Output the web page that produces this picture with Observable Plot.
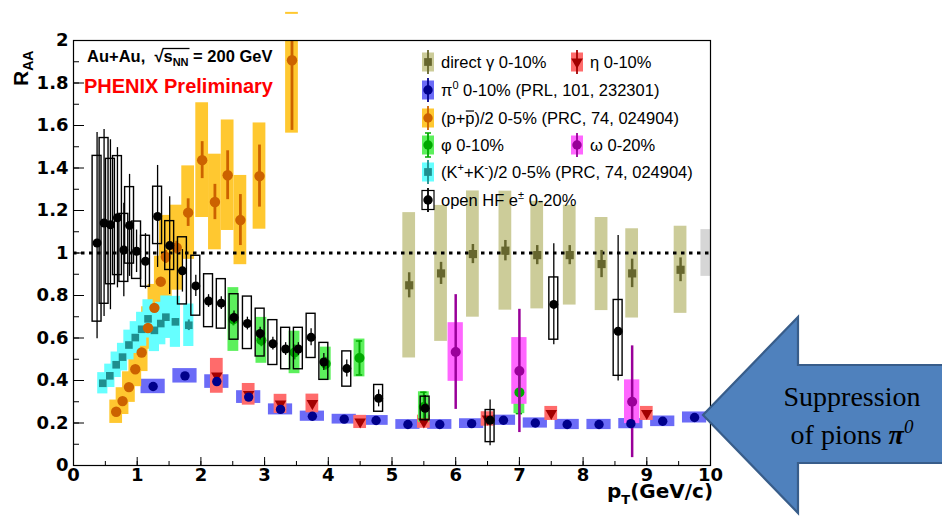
<!DOCTYPE html>
<html><head><meta charset="utf-8">
<script src="https://cdn.jsdelivr.net/npm/d3@7"></script>
<script src="https://cdn.jsdelivr.net/npm/@observablehq/plot@0.6"></script>
<style>body{margin:0;background:#fff}#chart{width:942px;height:519px}</style>
</head><body><div id="chart"></div>
<script>
// ---------- data ----------
const xTickVals = [0,1,2,3,4,5,6,7,8,9,10];
const xTickLabels = ["0","1","2","3","4","5","6","7","8","9","10"];
const yTickVals = [0,0.2,0.4,0.6,0.8,1,1.2,1.4,1.6,1.8,2];
const yTickLabels = ["0","0.2","0.4","0.6","0.8","1","1.2","1.4","1.6","1.8","2"];

const pi0X = [1.25,1.75,2.25,2.75,3.25,3.75,4.25,4.75,5.25,5.75,6.25,6.75,7.25,7.75,8.25,8.75,9.25,9.75];
const pi0Y = [0.372,0.422,0.395,0.322,0.264,0.232,0.218,0.212,0.193,0.193,0.197,0.213,0.200,0.193,0.193,0.197,0.208,0.226];
const pi0Sys = [0.034,0.034,0.032,0.030,0.026,0.024,0.023,0.023,0.023,0.023,0.023,0.024,0.024,0.024,0.024,0.024,0.025,0.026];

const etaX = [2.25,2.75,3.25,3.75,4.5,5.5,6.5,7.5,9.0];
const etaY = [0.422,0.335,0.290,0.292,0.205,0.206,0.219,0.245,0.245];
const etaSys = [0.082,0.051,0.045,0.044,0.031,0.031,0.034,0.033,0.033];

const protonX = [0.67,0.77,0.87,0.97,1.07,1.17,1.27,1.37,1.45,1.62,1.80,2.02,2.22,2.42,2.62,2.92,3.43];
const protonY = [0.253,0.303,0.369,0.453,0.532,0.647,0.742,0.865,0.981,1.025,1.190,1.437,1.240,1.366,1.155,1.362,1.907];
const protonStat = [0.01,0.01,0.01,0.01,0.012,0.012,0.015,0.02,0.03,0.03,0.065,0.087,0.083,0.115,0.12,0.146,0.33];
const protonSys = [0.055,0.063,0.072,0.082,0.09,0.10,0.11,0.12,0.196,0.20,0.22,0.27,0.225,0.26,0.21,0.25,0.343];

const kaonX = [0.46,0.57,0.67,0.77,0.87,0.97,1.07,1.17,1.27,1.37,1.45,1.60,1.81];
const kaonY = [0.387,0.422,0.474,0.510,0.567,0.602,0.641,0.690,0.636,0.668,0.698,0.676,0.660];
const kaonStat = [0.005,0.005,0.005,0.005,0.006,0.006,0.007,0.008,0.009,0.01,0.012,0.015,0.025];
const kaonSys = [0.05,0.055,0.06,0.065,0.07,0.075,0.08,0.09,0.10,0.10,0.10,0.12,0.10];

const phiX = [2.51,2.95,3.47,3.96,4.49,5.50,7.00];
const phiY = [0.687,0.589,0.532,0.479,0.506,0.275,0.344];
const phiStat = [0.03,0.03,0.035,0.03,0.08,0.07,0.10];
const phiSys = [0.15,0.108,0.10,0.078,0.089,0.072,0.10];

const omegaX = [6.00,7.00,8.77];
const omegaY = [0.534,0.445,0.300];
const omegaStat = [0.27,0.29,0.263];
const omegaSys = [0.138,0.157,0.103];

const gammaX = [5.27,5.77,6.27,6.78,7.28,7.79,8.29,8.77,9.53];
const gammaY = [0.848,0.904,0.995,1.011,0.990,0.990,0.948,0.904,0.921];
const gammaStat = [0.059,0.052,0.045,0.048,0.045,0.045,0.064,0.067,0.056];
const gammaSys = [0.342,0.32,0.297,0.28,0.253,0.235,0.219,0.21,0.205];

const hfX = [0.37,0.48,0.58,0.69,0.79,0.88,0.99,1.13,1.32,1.51,1.71,1.92,2.12,2.32,2.52,2.73,2.93,3.13,3.33,3.53,3.73,3.93,4.29,4.79,5.52,6.54,7.54,8.55];
const hfY = [1.047,1.141,1.133,1.166,1.014,1.130,1.008,0.961,1.172,1.035,0.916,0.845,0.774,0.764,0.697,0.668,0.621,0.573,0.548,0.548,0.603,0.487,0.456,0.316,0.269,0.213,0.758,0.632];
const hfStatUp = [0.52,0.44,0.40,0.33,0.22,0.24,0.10,0.13,0.24,0.23,0.10,0.05,0.03,0.03,0.03,0.03,0.03,0.03,0.03,0.03,0.04,0.04,0.04,0.04,0.06,0.095,0.285,0.45];
const hfStatDn = [0.45,0.44,0.40,0.33,0.22,0.24,0.10,0.13,0.24,0.23,0.10,0.05,0.03,0.03,0.03,0.03,0.03,0.03,0.03,0.03,0.04,0.04,0.04,0.04,0.06,0.12,0.19,0.234];
const hfSysUp = [0.41,0.40,0.31,0.29,0.17,0.18,0.14,0.12,0.14,0.115,0.158,0.142,0.126,0.113,0.109,0.127,0.117,0.111,0.10,0.10,0.111,0.09,0.081,0.063,0.055,0.048,0.127,0.147];
const hfSysDn = [0.37,0.38,0.28,0.27,0.15,0.18,0.13,0.12,0.13,0.115,0.158,0.14,0.123,0.12,0.105,0.12,0.108,0.10,0.095,0.095,0.097,0.084,0.085,0.063,0.056,0.103,0.166,0.21];

const normBox = [{x1: 9.85, x2: 10, y1: 0.89, y2: 1.11}];
const overflowTick = [{x1: 3.33, x2: 3.53, y: 2.13}];

// ---------- build tables ----------
const YMAX = 2;
function table(xs, ys, stUp, stDn, syUp, syDn) {
  return xs.map((x, i) => ({
    x, y: ys[i],
    lo: ys[i] - (stDn ? stDn[i] : 0), hi: Math.min(YMAX, ys[i] + (stUp ? stUp[i] : 0)),
    slo: ys[i] - syDn[i], shi: Math.min(YMAX, ys[i] + syUp[i])
  }));
}
const pi0 = table(pi0X, pi0Y, null, null, pi0Sys, pi0Sys);
const eta = table(etaX, etaY, null, null, etaSys, etaSys);
const proton = table(protonX, protonY, protonStat, protonStat, protonSys, protonSys);
const kaon = table(kaonX, kaonY, kaonStat, kaonStat, kaonSys, kaonSys);
const phi = table(phiX, phiY, phiStat, phiStat, phiSys, phiSys);
const omega = table(omegaX, omegaY, omegaStat, omegaStat, omegaSys, omegaSys);
const gamma = table(gammaX, gammaY, gammaStat, gammaStat, gammaSys, gammaSys);
const hf = table(hfX, hfY, hfStatUp, hfStatDn, hfSysUp, hfSysDn);

const C = {
  pi0Box: "#6b6bf7", pi0Dot: "#00008b",
  etaBox: "#ff6b6b", etaDot: "#a30000",
  pBox: "#ffc830", pDot: "#cc6200",
  kBox: "#66ffff", kDot: "#1f8f8f",
  phiBox: "#5cf05c", phiDot: "#00a800",
  omBox: "#ff66ff", omDot: "#990099",
  gBox: "#cccc99", gDot: "#66662e"
};

const box = (data, hw, fill, extra = {}) => Plot.rect(data, {x1: d => d.x - hw, x2: d => d.x + hw, y1: "slo", y2: "shi", fill, clip: true, ...extra});
const bar = (data, stroke, w) => Plot.ruleX(data, {x: "x", y1: "lo", y2: "hi", stroke, strokeWidth: w, clip: true});
const caps = (data, stroke, hw) => [
  Plot.ruleY(data, {y: "lo", x1: d => d.x - hw, x2: d => d.x + hw, stroke, strokeWidth: 1.5}),
  Plot.ruleY(data, {y: "hi", x1: d => d.x - hw, x2: d => d.x + hw, stroke, strokeWidth: 1.5})
];

const font = "'Liberation Sans', Arial, Helvetica, sans-serif";
const tickFont = "'DejaVu Sans', 'Liberation Sans', sans-serif";
const yMinor = d3.range(0, 2.001, 0.1).map(v => +v.toFixed(2));
const xMinor = d3.range(0, 10.001, 0.5);

const plot = Plot.plot({
  width: 942, height: 519,
  marginLeft: 73, marginRight: 232, marginTop: 40, marginBottom: 54,
  x: {domain: [0, 10]},
  y: {domain: [0, 2]},
  style: {fontFamily: font, background: "white", overflow: "visible"},
  marks: [
    // systematic boxes
    box(gamma, 0.1, C.gBox),
    box(pi0, 0.19, C.pi0Box),
    box(eta, 0.1, C.etaBox),
    box(proton, 0.1, C.pBox),
    box(kaon, 0.08, C.kBox),
    box(phi, 0.085, C.phiBox),
    box(omega, 0.12, C.omBox),
    Plot.rect(normBox, {x1: "x1", x2: "x2", y1: "y1", y2: "y2", fill: "#d6d6d6"}),
    Plot.ruleY(overflowTick, {y: "y", x1: "x1", x2: "x2", stroke: C.pBox, strokeWidth: 2}),
    // reference line
    Plot.ruleY([1], {stroke: "black", strokeWidth: 3, strokeDasharray: "3.5,4.5"}),
    // error bars and markers
    bar(gamma, C.gDot, 2.5),
    Plot.dot(gamma, {x: "x", y: "y", symbol: "square", r: 4.6, fill: C.gDot}),
    bar(kaon, C.kDot, 2),
    Plot.dot(kaon, {x: "x", y: "y", symbol: "square", r: 4.3, fill: C.kDot}),
    bar(proton, C.pDot, 2.8),
    Plot.dot(proton, {x: "x", y: "y", r: 5.2, fill: C.pDot}),
    bar(phi, C.phiDot, 2),
    ...caps(phi.slice(4), C.phiDot, 0.05),
    Plot.dot(phi, {x: "x", y: "y", r: 5, fill: C.phiDot}),
    bar(omega, C.omDot, 2.5),
    Plot.dot(omega, {x: "x", y: "y", r: 5, fill: C.omDot}),
    Plot.dot(eta, {x: "x", y: "y", symbol: "triangle", rotate: 180, r: 4.3, fill: C.etaDot}),
    Plot.dot(pi0, {x: "x", y: "y", r: 4.7, fill: C.pi0Dot}),
    // open heavy flavour electrons
    Plot.rect(hf, {x1: d => d.x - 0.07, x2: d => d.x + 0.07, y1: "slo", y2: "shi", fill: "none", stroke: "black", strokeWidth: 1.4, clip: true}),
    bar(hf, "black", 1.3),
    Plot.dot(hf, {x: "x", y: "y", r: 4.5, fill: "black"}),
    // axes
    Plot.frame({stroke: "black", strokeWidth: 1.2}),
    Plot.axisY(yMinor, {tickSize: -6, tickFormat: () => "", label: null}),
    Plot.axisY(yTickVals, {tickSize: -11, tickFormat: () => "", label: null}),
    Plot.axisY(yTickVals, {tickSize: 0, tickPadding: 5, label: null, fontSize: 18, fontWeight: "bold", fontFamily: tickFont, fill: "black",
      tickFormat: d => yTickLabels[yTickVals.indexOf(d)]}),
    Plot.axisX(xMinor, {tickSize: -4, tickFormat: () => "", label: null}),
    Plot.axisX(xTickVals, {tickSize: -8, tickFormat: () => "", label: null}),
    Plot.axisX(xTickVals, {tickSize: 0, tickPadding: 3, label: null, fontSize: 18, fontWeight: "bold", fontFamily: tickFont, fill: "black",
      tickFormat: d => xTickLabels[xTickVals.indexOf(d)]})
  ]
});
document.getElementById("chart").appendChild(plot);

// ---------- annotations, legend, arrow ----------
const svg = d3.select(plot);
const txt = (sel) => sel.append("text").attr("text-anchor", "start").attr("fill", "black").attr("font-family", font);

// axis titles
const yl = txt(svg).attr("transform", "translate(28,86) rotate(-90)")
  .attr("font-weight", "bold").attr("font-size", 21);
yl.append("tspan").text("R");
yl.append("tspan").attr("font-size", 14).attr("dy", 5).text("AA");

const xl = txt(svg).attr("x", 607).attr("y", 498).attr("font-weight", "bold").attr("font-size", 20).attr("font-family", tickFont);
xl.append("tspan").text("p");
xl.append("tspan").attr("font-size", 13).attr("dy", 6).text("T");
xl.append("tspan").attr("dy", -6).text("(GeV/c)");

// system label
const sys = txt(svg).attr("x", 87).attr("y", 62).attr("font-weight", "bold").attr("font-size", 16.5);
sys.append("tspan").text("Au+Au,  \u221A");
sys.append("tspan").text("s");
sys.append("tspan").attr("font-size", 11).attr("dy", 4).text("NN");
sys.append("tspan").attr("dy", -4).text(" = 200 GeV");
{
  const n = sys.node();
  const s = "Au+Au,  \u221A".length;
  const x1 = n.getStartPositionOfChar(s).x, x2 = n.getEndPositionOfChar(s + 2).x;
  svg.append("line").attr("x1", x1 - 1).attr("x2", x2 + 1).attr("y1", 48.5).attr("y2", 48.5)
    .attr("stroke", "black").attr("stroke-width", 1.3);
}
txt(svg).attr("x", 84).attr("y", 93).attr("font-weight", "bold")
  .attr("font-size", 20).attr("fill", "#ff0000").text("PHENIX Preliminary");

// legend
const legend = [
  {x: 428, y: 62, box: C.gBox, dot: C.gDot, sym: "square", parts: [["direct \u03B3 0-10%"]]},
  {x: 577, y: 62, box: C.etaBox, dot: C.etaDot, sym: "tri", parts: [["\u03B7 0-10%"]]},
  {x: 428, y: 90, box: C.pi0Box, dot: C.pi0Dot, sym: "circle", parts: [["\u03C0"], ["0", "sup"], [" 0-10% (PRL, 101, 232301)"]]},
  {x: 428, y: 118, box: C.pBox, dot: C.pDot, sym: "circle", parts: [["(p+p)/2 0-5% (PRC, 74, 024904)"]]},
  {x: 428, y: 145, box: C.phiBox, dot: C.phiDot, sym: "circle", cap: true, parts: [["\u03C6 0-10%"]]},
  {x: 577, y: 145, box: C.omBox, dot: C.omDot, sym: "circle", parts: [["\u03C9 0-20%"]]},
  {x: 428, y: 172, box: C.kBox, dot: C.kDot, sym: "square", parts: [["(K"], ["+", "sup"], ["+K"], ["-", "sup"], [")/2 0-5% (PRC, 74, 024904)"]]},
  {x: 428, y: 200, box: "white", dot: "black", sym: "circle", open: true, parts: [["open HF e"], ["\u00B1", "sup"], [" 0-20%"]]}
];
const lg = svg.append("g");
for (const e of legend) {
  const g = lg.append("g").attr("transform", `translate(${e.x},${e.y})`);
  g.append("rect").attr("x", -6).attr("y", -9.5).attr("width", 12).attr("height", 19)
    .attr("fill", e.box).attr("stroke", e.open ? "black" : "none").attr("stroke-width", 1.2);
  g.append("line").attr("x1", 0).attr("x2", 0).attr("y1", -12).attr("y2", 12).attr("stroke", e.dot).attr("stroke-width", 1.8);
  if (e.cap) {
    g.append("line").attr("x1", -3).attr("x2", 3).attr("y1", -12).attr("y2", -12).attr("stroke", e.dot).attr("stroke-width", 1.5);
    g.append("line").attr("x1", -3).attr("x2", 3).attr("y1", 12).attr("y2", 12).attr("stroke", e.dot).attr("stroke-width", 1.5);
  }
  const symType = e.sym === "square" ? d3.symbolSquare : e.sym === "tri" ? d3.symbolTriangle : d3.symbolCircle;
  g.append("path").attr("d", d3.symbol(symType, e.sym === "circle" ? 70 : 60)())
    .attr("fill", e.dot).attr("transform", e.sym === "tri" ? "rotate(180)" : null);
  const t = txt(g).attr("x", 13).attr("y", 6).attr("font-size", 16.5);
  let shift = 0;
  for (const [s, k] of e.parts) {
    if (k === "sup") { t.append("tspan").attr("font-size", 11).attr("dy", -7).text(s); shift = 7; }
    else { t.append("tspan").attr("dy", shift || null).text(s); shift = 0; }
  }
  if (e.parts[0][0].startsWith("(p+p)")) {
    const n = t.node();
    const a = n.getStartPositionOfChar(3).x, b = n.getEndPositionOfChar(3).x;
    g.append("line").attr("x1", a + 0.5).attr("x2", b - 0.5).attr("y1", -7).attr("y2", -7)
      .attr("stroke", "black").attr("stroke-width", 1.2);
  }
}

// arrow annotation
const arrow = svg.append("g");
arrow.append("path")
  .attr("d", "M703,415 L798,317 L798,365 L950,365 L950,463 L798,463 L798,513 Z")
  .attr("fill", "#4f81bd").attr("stroke", "#385d8a").attr("stroke-width", 2.2).attr("stroke-linejoin", "miter");
const serif = "'Liberation Serif', 'Times New Roman', serif";
arrow.append("text").attr("x", 852).attr("y", 406).attr("text-anchor", "middle")
  .attr("font-family", serif).attr("font-size", 28).attr("fill", "black").text("Suppression");
const t2 = arrow.append("text").attr("x", 852).attr("y", 444).attr("text-anchor", "middle")
  .attr("font-family", serif).attr("font-size", 28).attr("fill", "black");
t2.append("tspan").text("of pions ");
t2.append("tspan").attr("font-weight", "bold").attr("font-style", "italic").text("\u03C0");
t2.append("tspan").attr("font-style", "italic").attr("font-size", 19).attr("dy", -11).text("0");
</script>
</body></html>
